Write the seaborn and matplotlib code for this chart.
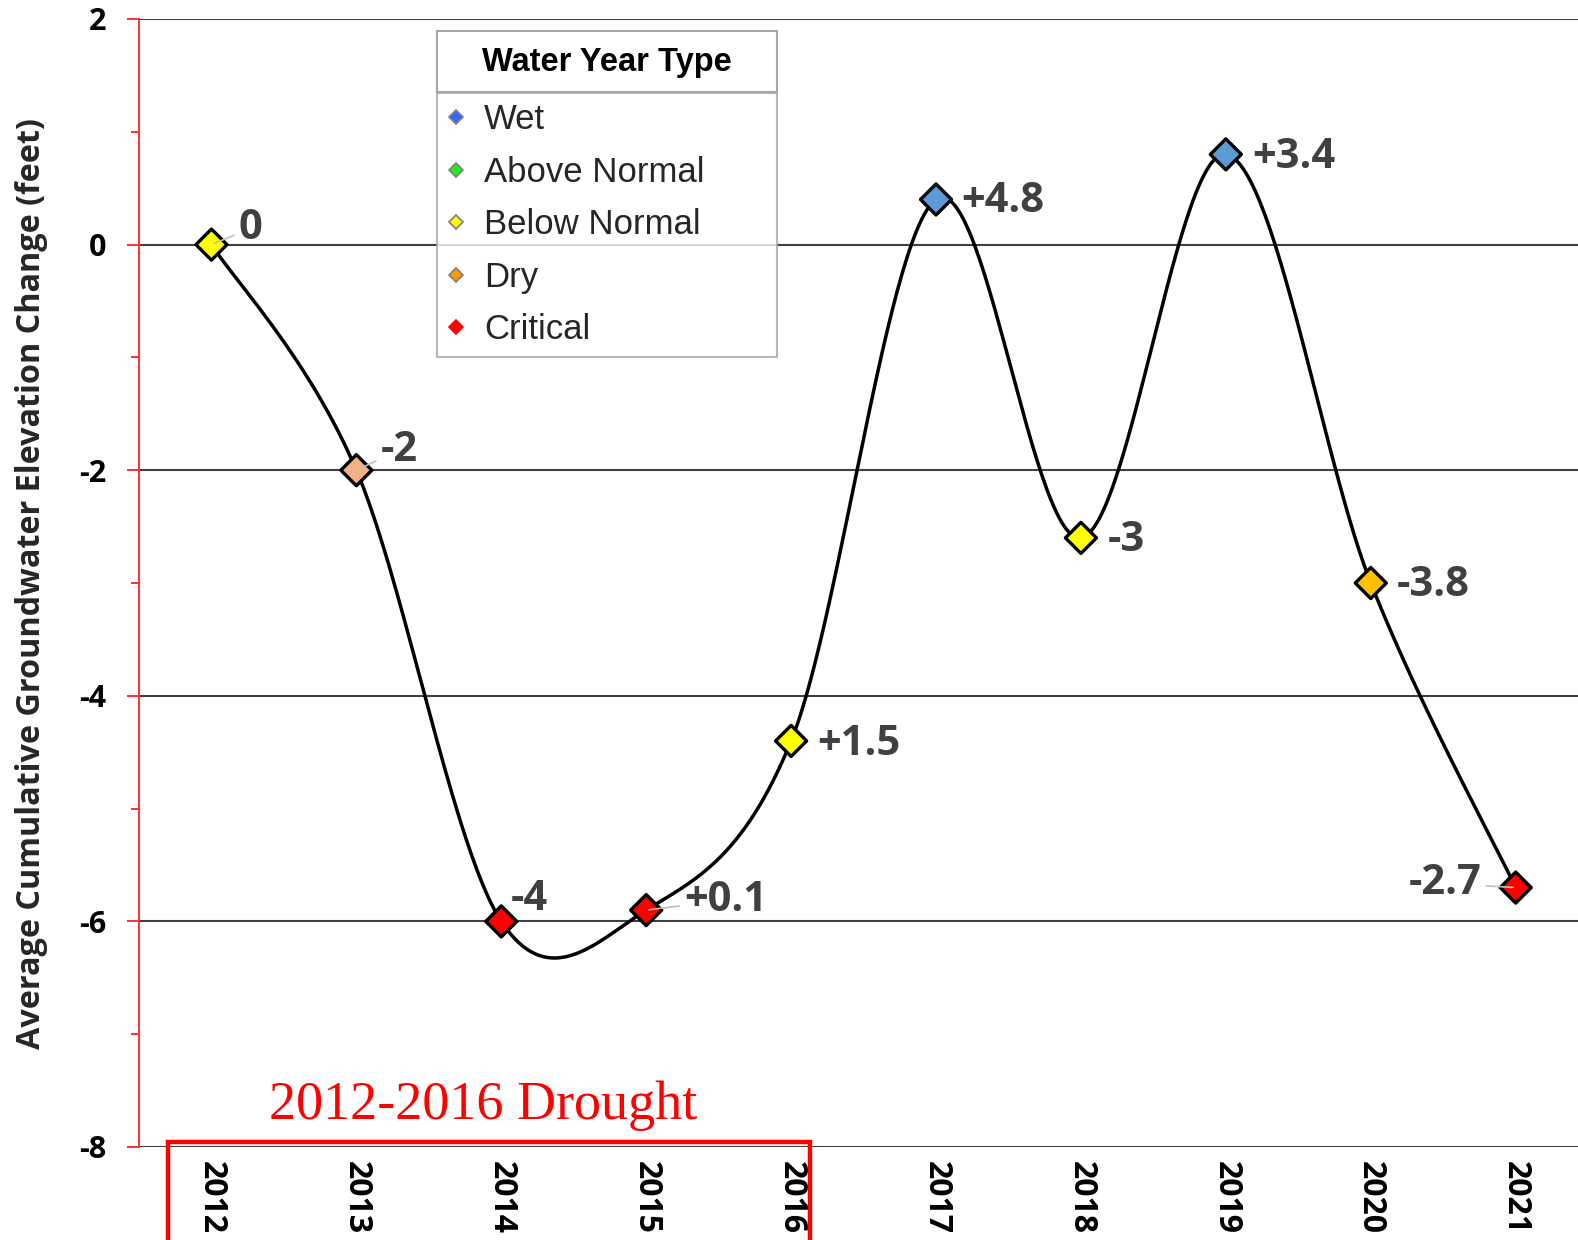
"""
Average cumulative groundwater elevation change, 2012-2021,
with markers coloured by water year type.
"""

import numpy as np
import pandas as pd
import matplotlib
matplotlib.use("Agg")
import matplotlib.pyplot as plt
from matplotlib import font_manager
from matplotlib.lines import Line2D
from matplotlib.patches import Rectangle
import seaborn as sns

# Data
years = ['2012', '2013', '2014', '2015', '2016', '2017', '2018', '2019', '2020', '2021']
cum_change = [0.0, -2.0, -6.0, -5.9, -4.4, 0.4, -2.6, 0.8, -3.0, -5.7]
year_change_labels = ['0', '-2', '-4', '+0.1', '+1.5', '+4.8', '-3', '+3.4', '-3.8', '-2.7']
marker_colors = ['#FFFF00', '#F4B183', '#FF0000', '#FF0000', '#FFFF00',
                 '#5B9BD5', '#FFFF00', '#5B9BD5', '#FFC000', '#FF0000']

legend_types = ['Wet', 'Above Normal', 'Below Normal', 'Dry', 'Critical']
legend_colors = ['#3366FF', '#22EE22', '#FFFF00', '#FF9900', '#FF0000']

y_ticks = [-8, -6, -4, -2, 0, 2]
y_label = 'Average Cumulative Groundwater Elevation Change (feet)'
drought_text = '2012-2016 Drought'

# label offsets in pixels (dx, dy, ha)
label_offsets = [(27, 16, 'left'), (24, 20, 'left'), (9, 22, 'left'), (38, 10, 'left'),
                 (26, -4, 'left'), (25, -2, 'left'), (27, -3, 'left'), (26, -3, 'left'),
                 (26, -3, 'left'), (-34, 4, 'right')]
leader_idx = [0, 1, 3, 9]


def font_ok(name):
    try:
        font_manager.findfont(name, fallback_to_default=False)
        return True
    except Exception:
        return False


def excel_smooth(x, y, n=60):
    """Bezier smoothing through the points, like a smoothed spreadsheet line."""
    x = np.asarray(x, float)
    y = np.asarray(y, float)
    px = np.concatenate([[x[0]], x, [x[-1]]])
    py = np.concatenate([[y[0]], y, [y[-1]]])
    out_x, out_y = [], []
    t = np.linspace(0, 1, n)
    for i in range(1, len(px) - 2):
        p0 = np.array([px[i], py[i]])
        p3 = np.array([px[i + 1], py[i + 1]])
        c1 = p0 + (np.array([px[i + 1], py[i + 1]]) - np.array([px[i - 1], py[i - 1]])) / 6
        c2 = p3 - (np.array([px[i + 2], py[i + 2]]) - np.array([px[i], py[i]])) / 6
        pts = ((1 - t) ** 3)[:, None] * p0 + (3 * (1 - t) ** 2 * t)[:, None] * c1 \
            + (3 * (1 - t) * t ** 2)[:, None] * c2 + (t ** 3)[:, None] * p3
        out_x.extend(pts[:, 0])
        out_y.extend(pts[:, 1])
    return np.array(out_x), np.array(out_y)


def main():
    sns.set_style('white')
    plt.rcParams['font.family'] = ['Open Sans', 'DejaVu Sans']
    narrow = 'Liberation Sans Narrow' if font_ok('Liberation Sans Narrow') else 'Liberation Sans'
    narrow_size = 29 if narrow == 'Liberation Sans Narrow' else 25

    W, H = 1578, 1240
    fig = plt.figure(figsize=(W / 100, H / 100), dpi=100)
    left, right = 139 / W, 1.0
    top, bottom = 1 - 19 / H, 1 - 1147 / H
    ax = fig.add_axes([left, bottom, right - left, top - bottom])

    xpos = np.arange(len(years))
    sx, sy = excel_smooth(xpos, cum_change)
    sns.lineplot(x=sx, y=sy, sort=False, estimator=None, color='black', lw=2.5, ax=ax, zorder=3)

    df = pd.DataFrame({'x': xpos, 'y': cum_change, 'year': years})
    sns.scatterplot(data=df, x='x', y='y', hue='year', palette=dict(zip(years, marker_colors)),
                    marker='D', s=250, edgecolor='black', linewidth=2.4, legend=False,
                    ax=ax, zorder=4)

    for i, lab in enumerate(year_change_labels):
        dx, dy, ha = label_offsets[i]
        arrow = None
        if i in leader_idx:
            arrow = dict(arrowstyle='-', color='#BFBFBF', lw=1.2, shrinkA=1, shrinkB=2)
        ax.annotate(lab, (xpos[i], cum_change[i]), xytext=(dx, dy), textcoords='offset pixels',
                    ha=ha, va='center', fontsize=30, fontweight='bold', color='#404040',
                    arrowprops=arrow, zorder=5)

    ax.set_xlim(-0.5, 9.43)
    ax.set_ylim(-8, 2)
    ax.set_xlabel('')
    ax.set_yticks(y_ticks)
    ax.set_yticklabels([str(v) for v in y_ticks], fontsize=22, fontweight='bold', color='black')
    ax.set_yticks(np.arange(-7, 2, 2), minor=True)
    ax.tick_params(axis='y', which='major', direction='out', length=8.6, width=1.4,
                   color='#FF3030', pad=15, left=True)
    ax.tick_params(axis='y', which='minor', direction='out', length=5.8, width=1.4,
                   color='#FF3030', left=True)
    ax.set_xticks(xpos)
    ax.set_xticklabels(years, rotation=270, fontsize=23, fontweight='bold', color='black')
    ax.tick_params(axis='x', length=0, pad=10)
    for lab in ax.get_xticklabels():
        lab.set_va('top')
        lab.set_ha('center')

    ax.grid(axis='y', which='major', color='#404040', lw=1.5)
    ax.grid(axis='x', visible=False)
    for side in ['top', 'right', 'bottom']:
        ax.spines[side].set_visible(False)
    ax.spines['left'].set_color('#FF3030')
    ax.spines['left'].set_linewidth(1.4)
    ax.spines['left'].set_zorder(2.5)

    ax.set_ylabel(y_label, fontsize=23.3, fontweight='bold', color='#262626')
    ax.yaxis.set_label_coords((48 / W - left) / (right - left), (1 - 584 / H - bottom) / (top - bottom))

    # legend: items box
    handles = [Line2D([], [], marker='D', ls='none', markersize=7, markerfacecolor=c,
                      markeredgecolor='#808080' if c != '#FF0000' else '#FF0000', markeredgewidth=1.2)
               for c in legend_colors]
    leg = ax.legend(handles, legend_types, loc='upper left',
                    bbox_to_anchor=(437 / W, 1 - 93 / H, 340 / W, 0.0),
                    bbox_transform=fig.transFigure, mode='expand', borderaxespad=0,
                    frameon=True, fancybox=False, borderpad=0.3, labelspacing=0.56,
                    handlelength=0.5, handletextpad=0.55,
                    prop={'family': narrow, 'size': narrow_size})
    leg.get_frame().set_edgecolor('#A6A6A6')
    leg.get_frame().set_linewidth(1.5)
    leg.set_zorder(6)

    # legend header box
    fig.patches.append(Rectangle((437 / W, 1 - 92 / H), 340 / W, 61 / H, transform=fig.transFigure,
                                 facecolor='white', edgecolor='#A6A6A6', lw=1.5, zorder=6))
    fig.text(607 / W, 1 - 62 / H, 'Water Year Type', ha='center', va='center', fontsize=23.5,
             fontweight='bold', family='Liberation Sans', color='black', zorder=7)

    # drought box and text
    fig.patches.append(Rectangle((168 / W, -0.02), 642 / W, 0.02 + (H - 1142) / H,
                                 transform=fig.transFigure, facecolor='none',
                                 edgecolor='#FF0000', lw=3.2, zorder=8))
    fig.text(483 / W, 1 - 1119 / H, drought_text, ha='center', va='baseline', fontsize=39,
             family='Liberation Serif', color='#FF0000')

    fig.savefig('out.png', dpi=100)
    plt.close(fig)


if __name__ == '__main__':
    main()
